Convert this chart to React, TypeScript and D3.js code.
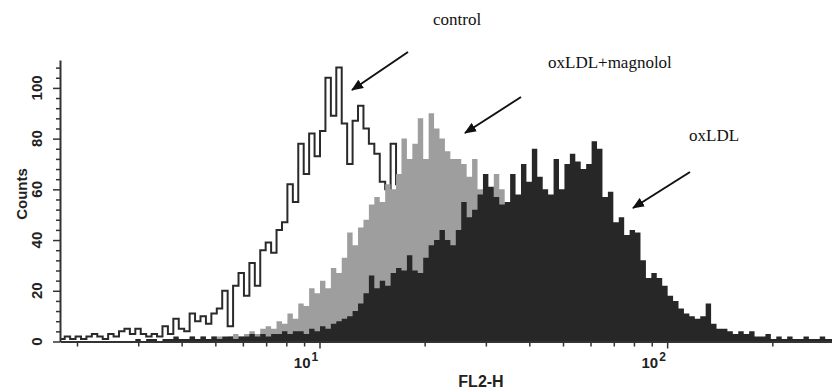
import React, { useEffect, useRef } from "react";
import * as d3 from "d3";

// histogram channels: 64 per decade of FL2-H
const channelsPerDecade = 64;

const controlStart = 16;
const controlCounts = [
  1, 2, 1, 2, 1, 2, 3, 2, 1, 3, 2, 4, 5, 3, 5, 3, 2, 3, 2, 6, 3, 9, 5, 4, 11,
  8, 10, 7, 11, 13, 20, 6, 22, 27, 18, 31, 22, 36, 39, 35, 44, 47, 62, 55, 78,
  66, 82, 73, 83, 104, 89, 108, 86, 70, 87, 93, 84, 78, 74, 63, 60, 78, 62, 55,
  48, 40, 32, 24, 17, 11, 7, 4, 2, 1,
];

const magnololStart = 36;
const magnololCounts = [
  1, 0, 1, 1, 2, 1, 2, 1, 2, 2, 1, 2, 3, 2, 3, 4, 3, 5, 6, 5, 8, 7, 11, 9, 15,
  14, 21, 19, 24, 21, 29, 27, 33, 43, 38, 45, 48, 54, 57, 55, 62, 60, 66, 80,
  72, 78, 88, 72, 90, 84, 80, 75, 72, 72, 70, 65, 72, 60, 56, 52, 66, 60, 50,
  44, 38, 32, 26, 22, 18, 14, 10, 8, 6, 4, 3, 2, 1,
];

const oxldlStart = 30;
const oxldlCounts = [
  1, 0, 1, 1, 0, 1, 1, 2, 1, 1, 2, 1, 2, 1, 2, 1, 2, 2, 1, 2, 2, 3, 2, 3, 2,
  3, 3, 4, 3, 4, 4, 3, 5, 4, 6, 5, 7, 8, 9, 10, 12, 15, 19, 26, 21, 24, 22, 27,
  29, 28, 34, 28, 27, 33, 38, 40, 44, 40, 38, 44, 55, 49, 52, 58, 66, 61, 57,
  54, 55, 66, 58, 70, 63, 76, 65, 60, 58, 72, 60, 70, 74, 71, 68, 70, 79, 76,
  57, 59, 47, 49, 42, 44, 43, 32, 25, 27, 25, 22, 18, 16, 13, 11, 10, 9, 10,
  15, 7, 5, 5, 4, 3, 4, 3, 4, 2, 2, 3, 1, 2, 1, 2, 1, 1, 2, 1, 1, 2, 1, 1,
];

const xDomain = [1.787, 297];
const yDomain = [0, 111];
const xMinorTicks = [2, 3, 4, 5, 6, 7, 8, 9, 20, 30, 40, 50, 60, 70, 80, 90, 200];
const xMajorTicks = [10, 100];
const yMajorTicks = [0, 20, 40, 60, 80, 100];

const labels = [
  { text: "control", x: 433, y: 25 },
  { text: "oxLDL+magnolol", x: 548, y: 68 },
  { text: "oxLDL", x: 689, y: 141 },
];
const arrows = [
  { x1: 408, y1: 52, x2: 352, y2: 90 },
  { x1: 521, y1: 97, x2: 465, y2: 133 },
  { x1: 690, y1: 172, x2: 633, y2: 208 },
];

const toBins = (start: number, counts: number[]) => {
  const pts = counts.map((v, i) => ({
    f: Math.pow(10, (start + i) / channelsPerDecade),
    v,
  }));
  pts.push({
    f: Math.pow(10, (start + counts.length) / channelsPerDecade),
    v: counts[counts.length - 1],
  });
  return pts;
};

const sans = "Liberation Sans, Arial, sans-serif";

const App = () => {
  const ref = useRef<SVGSVGElement>(null);

  useEffect(() => {
    const width = 832;
    const height = 390;
    const margin = { top: 60, right: 0, bottom: 48.5, left: 60 };

    d3.select(ref.current).selectAll("*").remove();
    const svg = d3
      .select(ref.current)
      .attr("width", width)
      .attr("height", height);

    const x = d3
      .scaleLog()
      .domain(xDomain)
      .range([margin.left, width - margin.right]);
    const y = d3
      .scaleLinear()
      .domain(yDomain)
      .range([height - margin.bottom, margin.top]);

    svg
      .append("clipPath")
      .attr("id", "plot-clip")
      .append("rect")
      .attr("x", margin.left)
      .attr("y", 0)
      .attr("width", width - margin.left)
      .attr("height", y(0));

    const plot = svg.append("g").attr("clip-path", "url(#plot-clip)");

    const line = d3
      .line<{ f: number; v: number }>()
      .x((d) => x(d.f))
      .y((d) => y(d.v))
      .curve(d3.curveStepAfter);
    const area = d3
      .area<{ f: number; v: number }>()
      .x((d) => x(d.f))
      .y0(y(0))
      .y1((d) => y(d.v))
      .curve(d3.curveStepAfter);

    // control: outline only, drawn underneath
    plot
      .append("path")
      .datum(toBins(controlStart, controlCounts))
      .attr("d", line)
      .attr("fill", "none")
      .attr("stroke", "#2a2a2a")
      .attr("stroke-width", 2);

    // oxLDL + magnolol: light grey
    plot
      .append("path")
      .datum(toBins(magnololStart, magnololCounts))
      .attr("d", area)
      .attr("fill", "#9e9e9e");

    // oxLDL: dark
    plot
      .append("path")
      .datum(toBins(oxldlStart, oxldlCounts))
      .attr("d", area)
      .attr("fill", "#272727");

    // x axis
    const xAxis = svg
      .append("g")
      .attr("transform", `translate(0, ${y(0)})`)
      .call(
        d3
          .axisBottom(x)
          .tickValues(xMinorTicks)
          .tickSize(5)
          .tickSizeOuter(0)
          .tickFormat(() => "")
      );
    xAxis.select(".domain").attr("stroke", "#333").attr("stroke-width", 2);
    xAxis.selectAll(".tick line").attr("stroke", "#333").attr("stroke-width", 1.5);
    xMajorTicks.forEach((t) => {
      xAxis
        .append("line")
        .attr("x1", x(t))
        .attr("x2", x(t))
        .attr("y1", 0)
        .attr("y2", 7)
        .attr("stroke", "#333")
        .attr("stroke-width", 1.5);
      const lab = xAxis
        .append("text")
        .attr("x", x(t) - 14)
        .attr("y", 26)
        .attr("font-family", sans)
        .attr("font-weight", "bold")
        .attr("font-size", 15)
        .attr("fill", "#222");
      lab.append("tspan").text("10");
      lab
        .append("tspan")
        .attr("dx", 1)
        .attr("dy", -7)
        .attr("font-size", 12)
        .text(String(Math.round(Math.log10(t))));
    });
    svg
      .append("text")
      .attr("x", 481)
      .attr("y", 387)
      .attr("text-anchor", "middle")
      .attr("font-family", sans)
      .attr("font-weight", "bold")
      .attr("font-size", 16)
      .attr("fill", "#222")
      .text("FL2-H");

    // y axis
    const yAxis = svg
      .append("g")
      .attr("transform", `translate(${margin.left}, 0)`)
      .call(
        d3
          .axisLeft(y)
          .tickValues(d3.range(0, 109, 4))
          .tickSize(4)
          .tickSizeOuter(0)
          .tickFormat(() => "")
      );
    yAxis.select(".domain").attr("stroke", "#333").attr("stroke-width", 2);
    yAxis.selectAll(".tick line").attr("stroke", "#333").attr("stroke-width", 1.5);
    yAxis
      .selectAll(".tick line")
      .filter((d: any) => yMajorTicks.includes(d))
      .attr("x2", -7);
    yMajorTicks.forEach((t) => {
      yAxis
        .append("text")
        .attr("transform", `translate(-18, ${y(t)}) rotate(-90)`)
        .attr("text-anchor", "middle")
        .attr("font-family", sans)
        .attr("font-weight", "bold")
        .attr("font-size", 15)
        .attr("fill", "#222")
        .text(t);
    });
    svg
      .append("text")
      .attr("transform", `translate(27, 194) rotate(-90)`)
      .attr("text-anchor", "middle")
      .attr("font-family", sans)
      .attr("font-weight", "bold")
      .attr("font-size", 15)
      .attr("fill", "#222")
      .text("Counts");

    // annotations
    labels.forEach((l) => {
      svg
        .append("text")
        .attr("x", l.x)
        .attr("y", l.y)
        .attr("font-family", "Liberation Serif, Times New Roman, serif")
        .attr("font-size", 17)
        .attr("fill", "#111")
        .text(l.text);
    });
    svg
      .append("defs")
      .append("marker")
      .attr("id", "arrow-head")
      .attr("viewBox", "0 0 12 10")
      .attr("refX", 11)
      .attr("refY", 5)
      .attr("markerWidth", 12)
      .attr("markerHeight", 10)
      .attr("markerUnits", "userSpaceOnUse")
      .attr("orient", "auto")
      .append("path")
      .attr("d", "M0,0 L12,5 L0,10 Z")
      .attr("fill", "#111");
    arrows.forEach((a) => {
      svg
        .append("line")
        .attr("x1", a.x1)
        .attr("y1", a.y1)
        .attr("x2", a.x2)
        .attr("y2", a.y2)
        .attr("stroke", "#111")
        .attr("stroke-width", 2)
        .attr("marker-end", "url(#arrow-head)");
    });
  }, []);

  return (
    <svg
      ref={ref}
      style={{ position: "absolute", left: 0, top: 0, background: "#fff" }}
    ></svg>
  );
};

export default App;
